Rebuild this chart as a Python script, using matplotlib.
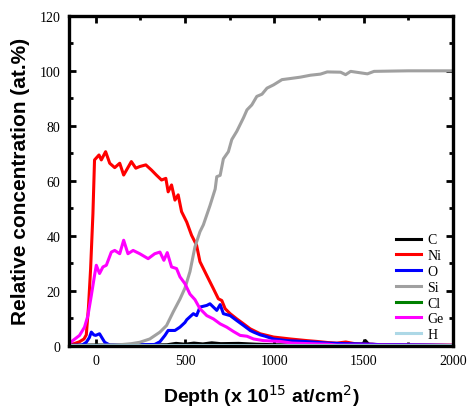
import matplotlib
matplotlib.use("Agg")
import matplotlib.pyplot as plt
from matplotlib.ticker import MultipleLocator

# depth (x 1e15 at/cm2) and concentration (at.%)
c_x = [-150, 0, 200, 400, 450, 500, 550, 600, 650, 700, 800, 900, 1000, 1200, 1400, 1490, 1510, 1530, 1700, 2000]
c_y = [0.2, 0.3, 0.2, 0.4, 0.9, 0.6, 1.0, 0.7, 1.1, 0.8, 0.9, 0.6, 0.4, 0.3, 0.3, 0.4, 1.9, 0.4, 0.3, 0.2]

ni_x = [-150, -120, -90, -65, -52, -40, -28, -15, -6, 19, 32, 56, 79, 107, 135, 157, 200, 225, 247, 281,
        313, 340, 369, 393, 406, 425, 444, 462, 481, 510, 537, 565, 584, 622, 659, 687, 706, 725, 753, 790,
        828, 865, 921, 996, 1090, 1184, 1240, 1300, 1350, 1400, 1450, 1500, 1550, 1600, 1650, 2000]
ni_y = [0.5, 0.8, 1.5, 2.5, 4, 14, 28, 48, 67.6, 69.4, 67.6, 70.6, 66.4, 64.8, 66.4, 62.1, 67, 64.6, 65.2, 65.8,
        63.9, 62.1, 60.3, 60.9, 56, 58.5, 53, 54.9, 48.8, 45, 40.2, 36.6, 30.6, 25.6, 20.8, 17.1, 16.5, 13.5, 11.7, 9.8,
        8, 6.2, 4.4, 3.2, 2.5, 1.9, 1.6, 1.2, 1.0, 1.4, 0.8, 0.7, 0.6, 0.3, 0.2, 0.2]

o_x = [-150, -75, -52, -35, -24, -10, 0, 22, 35, 51, 79, 150, 250, 330, 360, 388, 406, 444, 472, 500,
       510, 547, 565, 584, 622, 640, 659, 678, 697, 715, 753, 790, 828, 865, 884, 921, 949, 996, 1071, 1165,
       1240, 1300, 1400, 1500, 1550, 1600, 1700, 1850, 2000]
o_y = [0.2, 0.3, 1.3, 3, 5, 4, 3.8, 4.4, 3, 1.3, 0.3, 0.3, 0.4, 0.5, 1.5, 3.8, 5.6, 5.6, 6.8, 8.5,
       9.5, 11.7, 11, 14.1, 14.7, 15.3, 14.1, 12.9, 15, 11.7, 11, 9.2, 7.4, 5.6, 5, 4, 3.5, 2.5, 1.9, 1.6,
       1.3, 1.0, 0.8, 0.7, 0.6, 0.4, 0.4, 0.3, 0.1]

si_x = [-150, 100, 150, 200, 247, 303, 360, 397, 434, 472, 500, 528, 556, 584, 603, 640, 669, 678, 697, 715,
        743, 762, 790, 809, 828, 847, 874, 902, 931, 959, 996, 1043, 1090, 1146, 1202, 1258, 1296, 1371, 1399, 1427,
        1521, 1558, 1650, 1750, 1850, 2000]
si_y = [0, 0.3, 0.5, 0.8, 1.3, 2.5, 5, 7.4, 12.3, 17, 21, 27, 36, 41.5, 44, 51, 57, 61.5, 62, 68,
        70.6, 75, 78, 80.5, 83, 85.8, 87.6, 90.7, 91.5, 93.7, 94.9, 96.8, 97.2, 97.7, 98.4, 98.8, 99.6, 99.5, 98.6, 99.8,
        98.9, 99.8, 99.9, 100, 100, 100]

cl_x = [-150, 500, 1000, 1250]
cl_y = [0.3, 0.3, 0.3, 0.3]

ge_x = [-150, -128, -90, -62, -43, -24, -6, 4, 22, 41, 60, 88, 107, 135, 157, 181, 210, 247, 294, 331,
        360, 382, 401, 425, 453, 472, 500, 528, 556, 584, 622, 659, 697, 734, 772, 809, 847, 884, 940, 1034,
        1100, 1200, 1300, 1350, 2000]
ge_y = [0.8, 1.9, 3.8, 6.8, 11, 18.3, 25.6, 29.3, 26.3, 28.7, 29.3, 34.1, 34.7, 33.5, 38.4, 33.5, 34.7, 33.5, 31.7, 33.5,
        34.1, 31.1, 33.9, 28.7, 28.1, 25.1, 22.6, 18.8, 16.8, 13.5, 11, 9.8, 8, 6.8, 5.2, 3.8, 3.5, 2.5, 1.9, 1.6,
        1.0, 0.8, 0.6, 0.3, 0.2]

h_x = [-150, 2000]
h_y = [0.3, 0.3]

series = [
    ("C", c_x, c_y, "black"),
    ("Ni", ni_x, ni_y, "red"),
    ("O", o_x, o_y, "blue"),
    ("Si", si_x, si_y, "#a0a0a0"),
    ("Cl", cl_x, cl_y, "green"),
    ("Ge", ge_x, ge_y, "magenta"),
    ("H", h_x, h_y, "lightblue"),
]

fig = plt.figure(figsize=(4.68, 4.10), dpi=100)
ax = fig.add_axes([0.147, 0.154, 0.821, 0.805])

for name, xs, ys, col in series:
    ax.plot(xs, ys, color=col, lw=2.2, label=name)

ax.set_xlim(-150, 2000)
ax.set_ylim(0, 120)
ax.xaxis.set_major_locator(MultipleLocator(500))
ax.xaxis.set_minor_locator(MultipleLocator(250))
ax.yaxis.set_major_locator(MultipleLocator(20))
ax.yaxis.set_minor_locator(MultipleLocator(10))
ax.tick_params(which="both", direction="in", top=True, right=True, width=2)
ax.tick_params(which="major", length=5, labelsize=10, pad=6)
ax.tick_params(which="minor", length=3)
for lab in ax.get_xticklabels() + ax.get_yticklabels():
    lab.set_family("Liberation Serif")
for sp in ax.spines.values():
    sp.set_linewidth(2.4)

ax.set_xlabel("Depth (x 10$^{15}$ at/cm$^{2}$)", family="Liberation Sans",
              fontweight="bold", fontsize=14, labelpad=11)
ax.set_ylabel("Relative concentration (at.%)", family="Liberation Sans",
              fontweight="bold", fontsize=15, labelpad=7)

ax.legend(loc="lower right", bbox_to_anchor=(1.0, -0.015), frameon=False,
          prop={"family": "Liberation Serif", "size": 10}, handlelength=1.75,
          handletextpad=0.45, labelspacing=0.2, borderpad=0.2)

fig.savefig("out.png", dpi=100)
